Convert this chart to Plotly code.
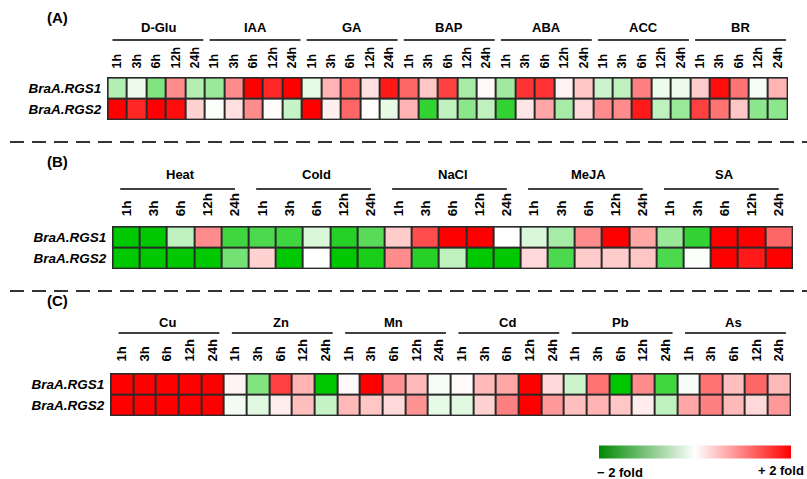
import plotly.graph_objects as go

# ---------------- data ----------------
genes = ["BraA.RGS1", "BraA.RGS2"]
times = ["1h", "3h", "6h", "12h", "24h"]

groups_a = ["D-Glu", "IAA", "GA", "BAP", "ABA", "ACC", "BR"]
rgs1_a = [-0.6, -0.15, -1.0, 0.9, -0.6,
          -0.8, 0.9, 2.0, 1.7, 2.0,
          -0.2, 0.6, 1.2, 0.25, 1.8,
          1.2, 0.45, 1.5, -0.7, 0.05,
          -0.75, 1.6, 1.6, 0.1, 0.45,
          -0.4, -0.5, 1.0, -0.15, -0.15,
          0.4, 1.9, 1.1, -0.07, 0.6]
rgs2_a = [2.0, 1.7, 2.0, 1.9, 0.35,
          -0.03, 0.25, 0.9, 0.02, -0.45,
          2.0, 0.12, 1.2, 0.0, -0.2,
          0.6, -1.6, -0.5, -0.9, -0.5,
          -1.6, 0.2, 0.7, -0.7, 0.3,
          0.9, 0.9, 1.8, -0.5, -0.8,
          1.5, 1.1, 0.45, -0.9, -0.9]

groups_b = ["Heat", "Cold", "NaCl", "MeJA", "SA"]
rgs1_b = [-2.0, -2.0, -0.5, 0.9, -1.5,
          -1.4, -1.5, -0.3, -1.7, -1.3,
          0.4, 1.4, 2.0, 2.0, 0.0,
          -0.3, -0.7, 0.9, 2.0, 0.7,
          -0.8, -1.6, 2.0, 2.0, 1.2]
rgs2_b = [-2.0, -2.0, -2.0, -2.0, -1.1,
          0.35, -2.0, 0.0, -2.0, -1.8,
          0.9, -1.7, -0.5, -2.0, -2.0,
          0.3, -1.4, 0.4, 0.4, 0.45,
          -1.4, -0.03, 2.0, 1.8, 2.0]

groups_c = ["Cu", "Zn", "Mn", "Cd", "Pb", "As"]
rgs1_c = [2.0, 2.0, 2.0, 2.0, 2.0,
          0.1, -1.0, 1.5, 0.6, -2.0,
          0.05, 2.0, 0.85, 0.55, -0.07,
          0.05, 0.55, 0.7, 2.0, 0.3,
          -0.4, 1.1, -2.0, 0.9, -1.5,
          -0.07, 1.1, 0.5, 1.2, 0.55]
rgs2_c = [2.0, 2.0, 2.0, 2.0, 2.0,
          -0.1, -0.25, 0.15, 0.5, -0.45,
          0.55, 0.45, 0.3, 0.85, -0.2,
          -0.25, 0.35, 1.0, 2.0, 0.8,
          0.5, 0.6, 0.45, 0.15, -0.5,
          0.7, 1.0, 0.55, 0.3, 0.8]

scale_labels = ["\u2212 2 fold", "+ 2 fold"]

# ---------------- layout helpers ----------------
W, H = 807, 479
FONT = "Liberation Sans, Arial, sans-serif"


def px(x):
    return x / W


def py(y):
    return 1 - y / H


panels = [
    dict(tag="(A)", groups=groups_a, z=[rgs1_a, rgs2_a], xd=(107, 788), yd=(77, 120),
         hdr_y=28, line_y=40, tfs=12.5, tlen=5, lab_y=17, off=(-0.25, 4.43), hoff=2.1),
    dict(tag="(B)", groups=groups_b, z=[rgs1_b, rgs2_b], xd=(112, 793), yd=(226, 269),
         hdr_y=174, line_y=189, tfs=13.5, tlen=6, lab_y=161, off=(-0.22, 4.0), hoff=2.0),
    dict(tag="(C)", groups=groups_c, z=[rgs1_c, rgs2_c], xd=(110, 791), yd=(373, 416),
         hdr_y=322, line_y=333, tfs=13, tlen=8, lab_y=300, off=(-0.15, 4.3), hoff=2.0),
]

fig = go.Figure()
annotations = []
shapes = []
layout_axes = {}

for i, p in enumerate(panels):
    sfx = "" if i == 0 else str(i + 1)
    n = len(p["groups"]) * len(times)
    xs = list(range(n))
    fig.add_trace(go.Heatmap(
        z=p["z"], x=xs, y=[0, 1], coloraxis="coloraxis",
        xgap=2, ygap=2, xaxis="x" + sfx, yaxis="y" + sfx, hoverinfo="skip"))
    cellw = (p["xd"][1] - p["xd"][0]) / n
    ex = 0.6 / cellw
    ey = 0.6 / ((p["yd"][1] - p["yd"][0]) / 2)
    layout_axes["xaxis" + sfx] = dict(
        domain=[px(p["xd"][0]), px(p["xd"][1])], range=[-0.5 - ex, n - 0.5 + ex],
        side="top", tickmode="array", tickvals=xs,
        ticktext=[t for _ in p["groups"] for t in times], tickangle=-90,
        tickfont=dict(family=FONT, size=p["tfs"], color="black", weight="bold"),
        ticks="outside", ticklen=p["tlen"], tickcolor="rgba(0,0,0,0)",
        showgrid=False, zeroline=False, showline=False, anchor="y" + sfx, fixedrange=True)
    layout_axes["yaxis" + sfx] = dict(
        domain=[py(p["yd"][1]), py(p["yd"][0])], range=[1.5 + ey, -0.5 - ey],
        tickmode="array", tickvals=[0, 1], ticktext=genes,
        tickfont=dict(family=FONT, size=13.5, color="black", weight="bold", style="italic"),
        ticks="outside", ticklen=2, tickcolor="rgba(0,0,0,0)",
        showgrid=False, zeroline=False, showline=False, anchor="x" + sfx, fixedrange=True)
    # panel label
    annotations.append(dict(text="<b>%s</b>" % p["tag"], x=px(45), y=py(p["lab_y"]),
                            xref="paper", yref="paper", xanchor="left", yanchor="middle",
                            showarrow=False, font=dict(family=FONT, size=15, color="black")))
    for k, g in enumerate(p["groups"]):
        annotations.append(dict(text="<b>%s</b>" % g, x=k * 5 + p["hoff"], y=py(p["hdr_y"]),
                                xref="x" + sfx, yref="paper", xanchor="center", yanchor="middle",
                                showarrow=False, font=dict(family=FONT, size=13, color="black")))
        shapes.append(dict(type="line", xref="x" + sfx, yref="paper",
                           x0=k * 5 + p["off"][0], x1=k * 5 + p["off"][1],
                           y0=py(p["line_y"]), y1=py(p["line_y"]),
                           line=dict(color="black", width=1.6)))

# dashed separators
for yy in (142, 291):
    shapes.append(dict(type="line", xref="paper", yref="paper", x0=px(10), x1=1,
                       y0=py(yy), y1=py(yy), line=dict(color="#333333", width=2, dash="14px,8px")))

# colour scale labels
annotations.append(dict(text="<b>%s</b>" % scale_labels[0], x=px(595), y=py(472), xref="paper",
                        yref="paper", xanchor="left", yanchor="middle", showarrow=False,
                        font=dict(family=FONT, size=13, color="black")))
annotations.append(dict(text="<b>%s</b>" % scale_labels[1], x=px(806), y=py(470), xref="paper",
                        yref="paper", xanchor="right", yanchor="middle", showarrow=False,
                        font=dict(family=FONT, size=13, color="black")))

# legend colour bar (display only)
fig.add_trace(go.Scatter(x=[None, None], y=[None, None], mode="markers",
                         marker=dict(color=[-2, 2], coloraxis="coloraxis2"),
                         showlegend=False, hoverinfo="skip"))

fig.update_layout(
    width=W, height=H, margin=dict(l=0, r=0, t=0, b=0),
    paper_bgcolor="white", plot_bgcolor="#2a2a2a",
    font=dict(family=FONT, color="black"),
    showlegend=False,
    coloraxis=dict(colorscale=[[0, "#00c800"], [0.5, "#ffffff"], [1, "#ff0000"]],
                   cmin=-2, cmax=2, showscale=False),
    coloraxis2=dict(colorscale=[[0, "#008a00"], [0.5, "#ffffff"], [1, "#ff0000"]],
                    cmin=-2, cmax=2, showscale=True,
                    colorbar=dict(orientation="h", x=px(695), xanchor="center",
                                  y=py(451.5), yanchor="middle", lenmode="pixels", len=192,
                                  thicknessmode="pixels", thickness=13, outlinewidth=0,
                                  showticklabels=False, ticks="", xpad=0, ypad=0)),
    annotations=annotations, shapes=shapes,
    **layout_axes,
)

fig.write_html("out.html", config={"displayModeBar": False},
               post_script="document.body.style.margin='0';document.body.style.overflow='hidden';")
